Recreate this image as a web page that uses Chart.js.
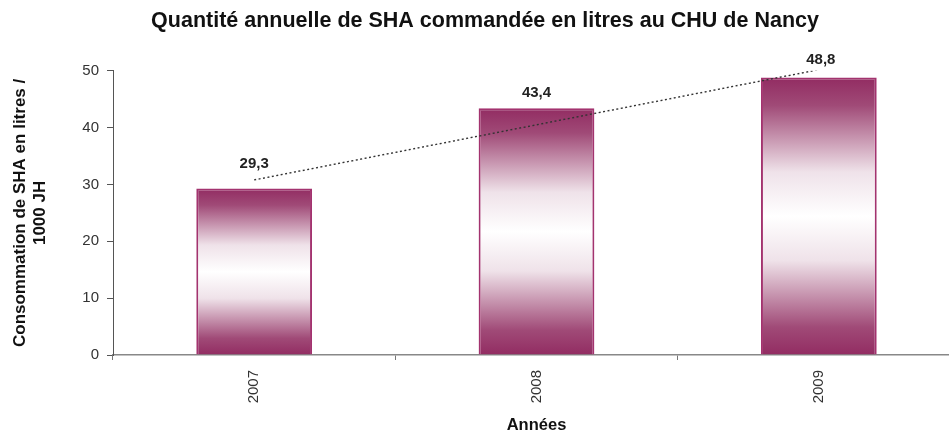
<!DOCTYPE html>
<html>
<head>
<meta charset="utf-8">
<script src="https://cdn.jsdelivr.net/npm/chart.js@4"></script>
<style>
  html, body { margin: 0; padding: 0; background: #fff; overflow: hidden; }
  #wrap { position: relative; width: 960px; height: 435px; }
</style>
</head>
<body>
<div id="wrap"><canvas id="chart"></canvas></div>
<script>
// Data
const years = ["2007", "2008", "2009"];
const consumption = [29.3, 43.4, 48.8];
const trend = [30.8, 40.5, 50.2];   // dotted linear trend line
const yTicks = [0, 10, 20, 30, 40, 50];

const FONT = "'Liberation Sans', Arial, sans-serif";
const DARK = "#8f2b60";

// vertical gradient per bar: dark at top and bottom, white in the middle
function barGradient(ctx) {
  const chart = ctx.chart;
  if (!chart.chartArea || ctx.raw == null) return DARK;
  const y = chart.scales.y;
  const top = y.getPixelForValue(ctx.raw);
  const base = y.getPixelForValue(0);
  const g = chart.ctx.createLinearGradient(0, top, 0, base);
  g.addColorStop(0, "#922c62");
  g.addColorStop(0.1, "#a04a77");
  g.addColorStop(0.34, "#efe2e9");
  g.addColorStop(0.5, "#ffffff");
  g.addColorStop(0.66, "#efe2e9");
  g.addColorStop(0.9, "#a04a77");
  g.addColorStop(1, "#922c62");
  return g;
}

// value labels above the bars (French decimal comma)
const valueLabels = {
  id: "valueLabels",
  afterDatasetsDraw(chart) {
    const meta = chart.getDatasetMeta(0);
    const c = chart.ctx;
    const offsets = [25, 15.5, 18];
    const shiftX = [0, 0, 2];
    c.save();
    c.font = "bold 15px " + FONT;
    c.fillStyle = "#222";
    c.textAlign = "center";
    c.textBaseline = "middle";
    meta.data.forEach((bar, i) => {
      const txt = consumption[i].toFixed(1).replace(".", ",");
      c.fillText(txt, bar.x + shiftX[i], bar.y - offsets[i]);
    });
    c.restore();
  }
};

new Chart(document.getElementById("chart"), {
  type: "bar",
  data: {
    labels: years,
    datasets: [
      {
        type: "bar",
        data: consumption,
        backgroundColor: barGradient,
        borderColor: "#a3336f",
        borderWidth: 2,
        barPercentage: 0.82,
        categoryPercentage: 0.5,
        order: 2
      },
      {
        type: "line",
        data: trend,
        borderColor: "#333",
        borderWidth: 1.4,
        borderDash: [2, 2.5],
        pointRadius: 0,
        fill: false,
        order: 1
      }
    ]
  },
  options: {
    responsive: true,
    maintainAspectRatio: false,
    animation: false,
    layout: { padding: { top: 8, right: 0, bottom: 0, left: 10 } },
    plugins: {
      legend: { display: false },
      tooltip: { enabled: false },
      title: {
        display: true,
        text: "Quantité annuelle de SHA commandée en litres au CHU de Nancy",
        color: "#111",
        font: { family: FONT, size: 21.5, weight: "bold" },
        padding: { top: 0, bottom: 37 }
      }
    },
    scales: {
      x: {
        offset: true,
        grid: { offset: true, drawOnChartArea: false, drawTicks: true, tickLength: 5, color: "#777" },
        border: { color: "#888", width: 1.5 },
        ticks: {
          color: "#333",
          minRotation: 90,
          maxRotation: 90,
          padding: 10,
          font: { family: FONT, size: 15 }
        },
        title: {
          display: true,
          text: "Années",
          color: "#111",
          padding: { top: 4, bottom: 0 },
          font: { family: FONT, size: 16.5, weight: "bold" }
        },
        afterFit(scale) { scale.height = 80; }
      },
      y: {
        min: 0,
        max: 50,
        afterBuildTicks(scale) { scale.ticks = yTicks.map(v => ({ value: v })); },
        grid: { drawOnChartArea: false, drawTicks: true, tickLength: 6, color: "#555" },
        border: { color: "#555", width: 1 },
        ticks: {
          color: "#333",
          padding: 8,
          font: { family: FONT, size: 15 }
        },
        title: {
          display: true,
          text: ["Consommation de SHA en litres /", "1000 JH"],
          color: "#111",
          padding: { top: 0, bottom: 8 },
          font: { family: FONT, size: 17, weight: "bold" }
        },
        afterFit(scale) { scale.width = 103; }
      }
    }
  },
  plugins: [valueLabels]
});
</script>
</body>
</html>
